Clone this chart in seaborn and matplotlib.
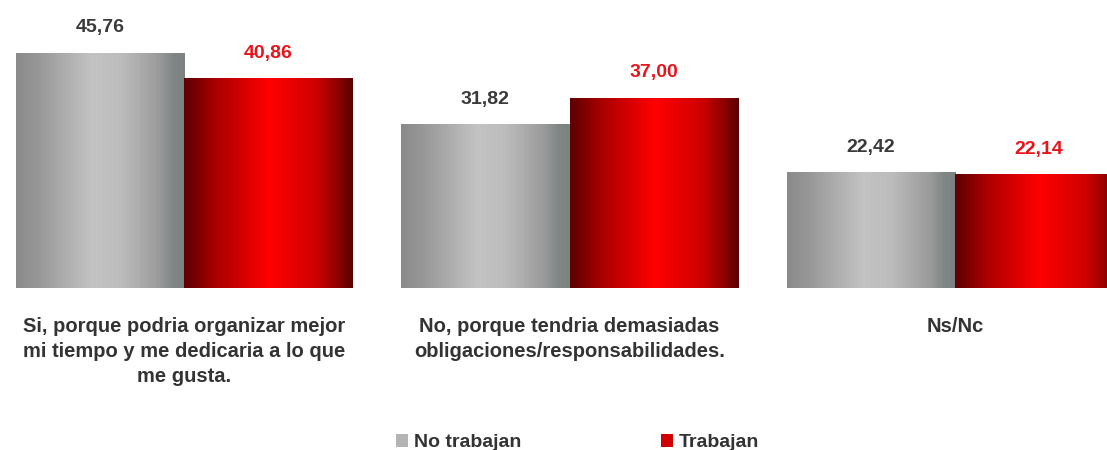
import numpy as np
import pandas as pd
import seaborn as sns
import matplotlib.pyplot as plt
from matplotlib.colors import LinearSegmentedColormap
from matplotlib.patches import Patch

# Data
categories = [
    'Si, porque podria organizar mejor\nmi tiempo y me dedicaria a lo que\nme gusta.',
    'No, porque tendria demasiadas\nobligaciones/responsabilidades.',
    'Ns/Nc',
]
no_trabajan = [45.76, 31.82, 22.42]
trabajan = [40.86, 37.00, 22.14]
series = ['No trabajan', 'Trabajan']

df = pd.DataFrame({
    'categoria': categories * 2,
    'grupo': [series[0]] * 3 + [series[1]] * 3,
    'valor': no_trabajan + trabajan,
})

sns.set_style('white')
plt.rcParams['font.family'] = ['Liberation Sans', 'DejaVu Sans']

fig = plt.figure(figsize=(11.07, 4.5), dpi=100)
ax = fig.add_axes([0, 162 / 450, 1, 288 / 450])

sns.barplot(data=df, x='categoria', y='valor', hue='grupo', palette=['#b0b0b0', '#e00000'],
            width=0.872, gap=0, legend=False, ax=ax)

# horizontal gradients like the original "cylinder" look
gray_cmap = LinearSegmentedColormap.from_list('gris', [
    (0.0, '#8a8a8a'), (0.12, '#969696'), (0.45, '#c3c3c3'), (0.62, '#bcbcbc'),
    (0.85, '#9a9a9a'), (0.93, '#808686'), (1.0, '#7c8282')])
red_cmap = LinearSegmentedColormap.from_list('rojo', [
    (0.0, '#5c0000'), (0.18, '#a80000'), (0.5, '#ff0000'), (0.78, '#d00000'),
    (0.92, '#8a0000'), (1.0, '#580000')])
grad = np.linspace(0, 1, 256).reshape(1, -1)

for container, cmap, tcolor in zip(ax.containers, [gray_cmap, red_cmap], ['#3a3a3a', '#e8141c']):
    for bar in container:
        x0, w, h = bar.get_x(), bar.get_width(), bar.get_height()
        bar.set_facecolor('none')
        bar.set_edgecolor('none')
        ax.imshow(grad, extent=[x0, x0 + w, 0, h], aspect='auto', cmap=cmap, zorder=2)
        ax.annotate(f'{h:.2f}'.replace('.', ','), (x0 + w / 2, h), xytext=(0, 12),
                    textcoords='offset points', ha='center', va='bottom',
                    fontsize=14, fontweight='bold', color=tcolor)

ax.set_xlim(-0.477, 2.394)
ax.set_ylim(0, 56.1)
ax.set_xlabel('')
ax.set_ylabel('')
ax.set_yticks([])
ax.tick_params(axis='x', length=0, pad=21)
for lbl in ax.get_xticklabels():
    lbl.set_fontsize(14.5)
    lbl.set_fontweight('bold')
    lbl.set_color('#333333')
    lbl.set_linespacing(1.38)
sns.despine(ax=ax, left=True, bottom=True)

handles = [Patch(facecolor='#b4b4b4', edgecolor='none'), Patch(facecolor='#d00000', edgecolor='none')]
fig.legend(handles, series, loc='lower center', bbox_to_anchor=(0.522, -0.042), ncol=2,
           frameon=False, columnspacing=7.2, handlelength=0.6, handleheight=0.6, handletextpad=0.3,
           prop={'size': 14, 'weight': 'bold'}, labelcolor='#333333')

fig.savefig('out.png', dpi=100)
